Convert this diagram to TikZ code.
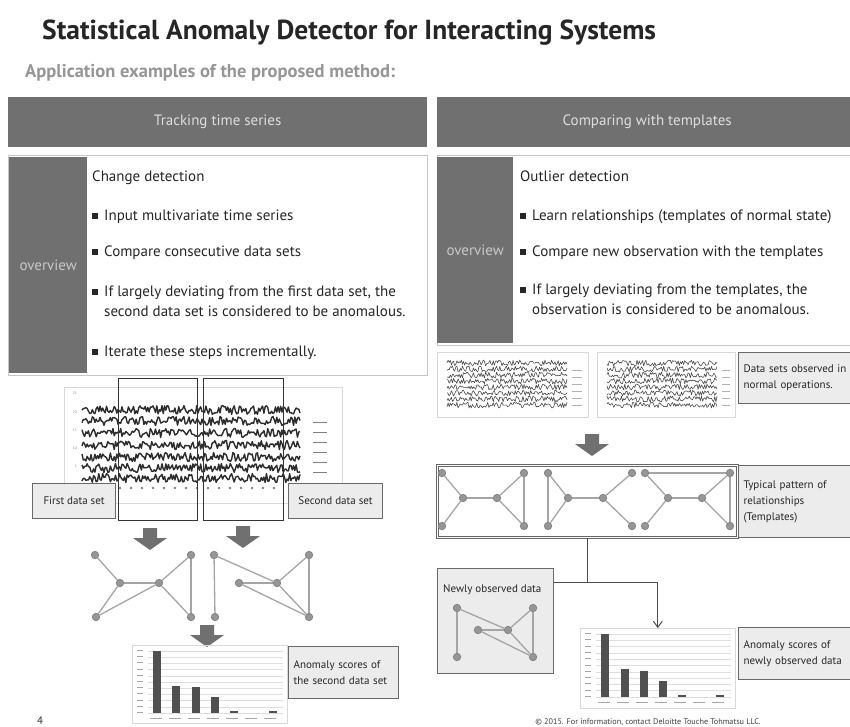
\documentclass[tikz,border=0pt]{standalone}
\usepackage{fontspec}
\setmainfont{PT Sans}
\usetikzlibrary{positioning,arrows.meta,calc}
\definecolor{hdrgray}{RGB}{112,112,112}
\definecolor{hdrtext}{RGB}{222,222,222}
\definecolor{ovtext}{RGB}{200,200,200}
\definecolor{subgray}{RGB}{150,150,150}
\definecolor{boxfill}{RGB}{236,236,236}
\definecolor{boxline}{RGB}{105,105,105}
\definecolor{nodegray}{RGB}{150,150,150}
\definecolor{edgegray}{RGB}{165,165,165}
\definecolor{bargray}{RGB}{80,80,80}
\definecolor{gridgray}{RGB}{222,222,222}
\definecolor{tsgray}{RGB}{45,45,45}
\newcommand{\blt}{\rule[1pt]{6pt}{6.5pt}\hspace{6pt}}
\newcommand{\fatarrow}[1]{\fill[hdrgray,shift={(#1)}] (-7,0) -- (7,0) -- (7,10) -- (17,10) -- (0,22) -- (-17,10) -- (-7,10) -- cycle;}
\tikzset{
  hdrbar/.style={fill=hdrgray,text=hdrtext,anchor=north west,inner sep=0pt,font=\fontsize{15}{17}\selectfont},
  ovcol/.style={fill=hdrgray,text=ovtext,anchor=north west,inner sep=0pt,font=\fontsize{15}{17}\selectfont},
  ovbox/.style={draw=gray!45,line width=1pt,fill=white,anchor=north west,inner sep=0pt},
  txt/.style={anchor=base west,inner sep=0pt,font=\fontsize{15}{17}\selectfont,text=black!85},
  lbl/.style={draw=boxline,fill=boxfill,line width=1.2pt,anchor=north west,align=left,inner xsep=5pt,inner ysep=0pt,font=\fontsize{11}{16}\selectfont,text=black!85},
  frame/.style={draw=gray!30,line width=0.6pt,anchor=north west,inner sep=0pt},
  win/.style={draw=black!80,line width=1.2pt,anchor=north west,inner sep=0pt},
  tiny/.style={font=\fontsize{3.5}{4}\selectfont,text=gray,inner sep=0pt},
  gn/.style={circle,fill=nodegray,draw=black!50,line width=0.7pt,inner sep=0pt,minimum size=7.5pt},
  ge/.style={draw=edgegray,line width=1.3pt},
  tsline/.style={draw=tsgray,line width=1.4pt,line join=round},
  thinline/.style={draw=tsgray!85,line width=0.6pt,line join=round},
  conn/.style={draw=black!70,line width=1pt}
}
\begin{document}
\begin{tikzpicture}[x=1pt,y=-1pt]
\clip (0,0) rectangle (850,727);
\fill[white] (0,0) rectangle (850,727);

% title
\node[anchor=base west,inner sep=0pt,font=\fontsize{27.5}{30}\selectfont\bfseries,text=black!85] (title) at (42,40) {Statistical Anomaly Detector for Interacting Systems};
\node[anchor=base west,inner sep=0pt,font=\fontsize{18.5}{21}\selectfont\bfseries,text=subgray] (subtitle) at (25,78) {Application examples of the proposed method:};

% header bars
\node[hdrbar,minimum width=419pt,minimum height=50pt] (hdrL) at (8,97) {Tracking time series};
\node[hdrbar,minimum width=420pt,minimum height=50pt] (hdrR) at (437,97) {Comparing with templates};

% overview (left)
\node[ovbox,minimum width=419pt,minimum height=220pt] (ovL) at (8,155) {};
\node[ovcol,minimum width=78pt,minimum height=216pt] (colL) at (9,157) {overview};
\node[txt] (headL) at (92,182) {Change detection};
\node[txt] (itemL1) at (92,220) {\blt Input multivariate time series};
\node[txt] (itemL2) at (92,256) {\blt Compare consecutive data sets};
\node[txt] (itemL3) at (92,296) {\blt If largely deviating from the first data set, the};
\node[txt] (itemL3b) at (104,316) {second data set is considered to be anomalous.};
\node[txt] (itemL4) at (92,356) {\blt Iterate these steps incrementally.};

% overview (right)
\node[ovbox,minimum width=420pt,minimum height=190pt] (ovR) at (437,155) {};
\node[ovcol,minimum width=76pt,minimum height=186pt] (colR) at (437,157) {overview};
\node[txt] (headR) at (520,182) {Outlier detection};
\node[txt] (itemR1) at (520,220) {\blt Learn relationships (templates of normal state)};
\node[txt] (itemR2) at (520,256) {\blt Compare new observation with the templates};
\node[txt] (itemR3) at (520,294) {\blt If largely deviating from the templates, the};
\node[txt] (itemR3b) at (532,314) {observation is considered to be anomalous.};

% left time series
\node[frame,minimum width=278pt,minimum height=116pt] (tsL) at (64,387) {};
\foreach \v/\yy in {25/393,20/412,15/430,10/448,5/466}
  \node[tiny,anchor=east] at (77,\yy) {\v};
\pgfmathsetseed{11}
\foreach \yy in {410,421,433,445,457,468,478}
  \draw[tsline] plot[domain=82:300,samples=170,variable=\t] (\t,{\yy+4.5*rand});
\foreach \yy in {422,432,442,452,462,472}
  \draw[gray,line width=0.8pt] (313,\yy) -- (327,\yy);
\foreach \xx in {120,131,...,282}
  \fill[gray] (\xx,488) circle (1.3);
\node[win,minimum width=79pt,minimum height=142pt] (win1) at (118,378) {};
\node[win,minimum width=80pt,minimum height=142pt] (win2) at (203,378) {};
\node[lbl,minimum width=83pt,minimum height=35pt] (firstset) at (32,483) {First data set};
\node[lbl,minimum width=94pt,minimum height=35pt] (secondset) at (288,483) {Second data set};

\fatarrow{150,528}
\fatarrow{243,526}

% graph of first data set
\node[gn] (p1) at (95,555) {};
\node[gn] (p2) at (120,583) {};
\node[gn] (p3) at (159,583) {};
\node[gn] (p4) at (96,617) {};
\node[gn] (p5) at (191,555) {};
\node[gn] (p6) at (191,617) {};
\foreach \u/\v in {p1/p2,p2/p3,p2/p4,p4/p3,p3/p5,p3/p6,p5/p6}
  \draw[ge] (\u) -- (\v);
% graph of second data set
\node[gn] (q1) at (214,555) {};
\node[gn] (q2) at (215,617) {};
\node[gn] (q3) at (239,583) {};
\node[gn] (q4) at (277,583) {};
\node[gn] (q5) at (309,555) {};
\node[gn] (q6) at (309,617) {};
\foreach \u/\v in {q1/q2,q1/q4,q3/q4,q3/q6,q4/q5,q4/q6,q5/q6}
  \draw[ge] (\u) -- (\v);

\fatarrow{207,625}

% left anomaly scores
\node[frame,minimum width=155pt,minimum height=78pt] (barL) at (132,645) {};
\foreach \g in {0,...,10}
  \draw[gridgray,line width=0.6pt] (148,651+\g*6.2) -- (283,651+\g*6.2);
\foreach \g in {0,...,10}
  \fill[gray!70] (137,650+\g*6.2) rectangle (143,651+\g*6.2);
\foreach \bx/\bt in {153/651,172/686,192/687,211/697,230/711,269/711}
  \fill[bargray] (\bx,\bt) rectangle (\bx+7.5,713);
\foreach \xx in {150,169,...,280}
  \fill[gray!70] (\xx,718) rectangle (\xx+12,719);
\node[lbl,text width=100pt,minimum height=52pt] (scoreL) at (288,646) {Anomaly scores of\\the second data set};

\node[anchor=base west,inner sep=0pt,font=\fontsize{11}{13}\selectfont,text=black!80] (pagenum) at (37,724) {4};

% right: normal data sets
\node[frame,minimum width=151pt,minimum height=65pt] (normA) at (437,352) {};
\node[frame,minimum width=138pt,minimum height=65pt] (normB) at (597,352) {};
\pgfmathsetseed{5}
\foreach \yy in {363,369,375,381,387,393,399,405} {
  \draw[thinline] plot[domain=447:567,samples=110,variable=\t] (\t,{\yy+3*rand});
  \draw[thinline] plot[domain=607:717,samples=100,variable=\t] (\t,{\yy+3*rand});
}
\foreach \yy in {370,377,384,391,398,405} {
  \draw[gray!60,line width=0.6pt] (572,\yy) -- (582,\yy);
  \draw[gray!60,line width=0.6pt] (722,\yy) -- (730,\yy);
}
\node[lbl,text width=107pt,minimum height=51pt] (normlbl) at (738,352) {Data sets observed in\\normal operations.};

\fatarrow{592,434}

% templates
\node[draw=black!60,double=white,double distance=1.6pt,line width=0.8pt,anchor=north west,inner sep=0pt,minimum width=300pt,minimum height=72pt] (tmpl) at (437,465) {};
\node[gn] (a1) at (442,473) {};
\node[gn] (a2) at (442,526) {};
\node[gn] (a3) at (463,498) {};
\node[gn] (a4) at (497,498) {};
\node[gn] (a5) at (524,473) {};
\node[gn] (a6) at (524,526) {};
\node[gn] (b1) at (548,473) {};
\node[gn] (b2) at (548,526) {};
\node[gn] (b3) at (568,498) {};
\node[gn] (b4) at (603,498) {};
\node[gn] (b5) at (632,473) {};
\node[gn] (b6) at (632,526) {};
\node[gn] (c1) at (645,473) {};
\node[gn] (c2) at (645,526) {};
\node[gn] (c3) at (668,498) {};
\node[gn] (c4) at (702,498) {};
\node[gn] (c5) at (730,473) {};
\node[gn] (c6) at (730,526) {};
\foreach \u/\v in {a1/a3,a2/a3,a3/a4,a4/a5,a4/a6,a5/a6,
                   b1/b2,b1/b3,b2/b3,b3/b4,b4/b5,b4/b6,
                   c1/c5,c1/c3,c2/c3,c3/c4,c4/c5,c4/c6,c5/c6}
  \draw[ge] (\u) -- (\v);
\node[lbl,text width=107pt,minimum height=72pt] (tmpllbl) at (738,465) {Typical pattern of\\relationships\\(Templates)};

% newly observed data
\node[lbl,minimum width=116pt,minimum height=105pt] (newd) at (437,568) {};
\node[anchor=base west,inner sep=0pt,font=\fontsize{11}{13}\selectfont,text=black!85] (newlbl) at (443,592) {Newly observed data};
\node[gn] (n1) at (457,608) {};
\node[gn] (n2) at (457,657) {};
\node[gn] (n3) at (478,630) {};
\node[gn] (n4) at (508,630) {};
\node[gn] (n5) at (533,608) {};
\node[gn] (n6) at (533,657) {};
\foreach \u/\v in {n1/n2,n1/n4,n3/n4,n3/n6,n4/n5,n4/n6,n5/n6}
  \draw[ge] (\u) -- (\v);

% right anomaly scores
\node[frame,minimum width=155pt,minimum height=80pt] (barR) at (580,628) {};
\foreach \g in {0,...,10}
  \draw[gridgray,line width=0.6pt] (596,634+\g*6.3) -- (731,634+\g*6.3);
\foreach \g in {0,...,10}
  \fill[gray!70] (585,633+\g*6.3) rectangle (591,634+\g*6.3);
\foreach \bx/\bt in {601/634,621/669,640/671,659/681,678/695,716/695}
  \fill[bargray] (\bx,\bt) rectangle (\bx+7.5,697);
\foreach \xx in {598,617,...,728}
  \fill[gray!70] (\xx,702) rectangle (\xx+12,703);
\node[lbl,text width=107pt,minimum height=52pt] (scoreR) at (738,627) {Anomaly scores of\\newly observed data};

% connector
\coordinate (jn) at (587,582);
\draw[conn] (tmpl.south -| jn) -- (jn);
\draw[conn,-{Straight Barb[length=6pt,width=9pt]}] (newd.east |- jn) -| (barR.north);

\node[font=\fontsize{8.2}{10}\selectfont,text=black!75,inner sep=0pt] (copyr) at (648,722) {© 2015. For information, contact Deloitte Touche Tohmatsu LLC.};
\end{tikzpicture}
\end{document}
